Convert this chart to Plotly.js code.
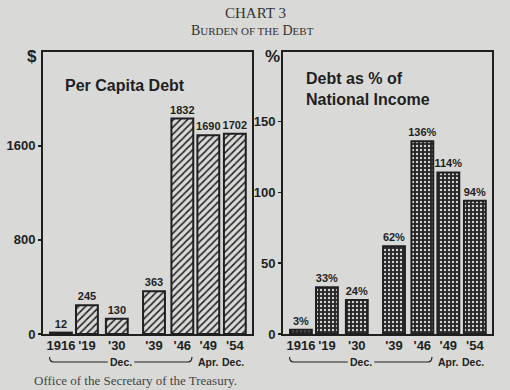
<!DOCTYPE html>
<html><head><meta charset="utf-8">
<script src="https://cdn.plot.ly/plotly-3.0.1.min.js"></script>
<style>html,body{margin:0;padding:0;background:#d9dad8;}</style>
</head><body>
<div id="chart" style="width:510px;height:390px;"></div>
<script>
// Data
const years = ["1916", "'19", "'30", "'39", "'46", "'49", "'54"];
const perCapitaDebt = [12, 245, 130, 363, 1832, 1690, 1702];
const debtPctIncome = [3, 33, 24, 62, 136, 114, 94];
const perCapitaLabels = ["12", "245", "130", "363", "1832", "1690", "1702"];
const pctLabels = ["3%", "33%", "24%", "62%", "136%", "114%", "94%"];
const leftTicks = [0, 800, 1600];
const rightTicks = [0, 50, 100, 150];

// Layout: slot positions of the bars along each panel (uneven spacing in original)
const slots = [0, 1, 2.15, 3.58, 4.67, 5.67, 6.69];

const ink = '#1f1f1f';
const bg = '#d9dad8';
const sans = 'Liberation Sans, Arial, sans-serif';
const serif = 'Liberation Serif, Times New Roman, serif';

const traces = [
  {
    type: 'bar', x: slots, y: perCapitaDebt, xaxis: 'x', yaxis: 'y',
    width: 0.84, text: perCapitaLabels, textposition: 'outside', cliponaxis: false,
    constraintext: 'none',
    textfont: {family: sans, size: 11, color: ink, weight: 'bold'},
    marker: {color: bg, line: {color: ink, width: 2},
      pattern: {shape: '/', fgcolor: ink, bgcolor: bg, size: 5, solidity: 0.3}},
    hoverinfo: 'skip'
  },
  {
    type: 'bar', x: slots, y: debtPctIncome, xaxis: 'x2', yaxis: 'y2',
    width: 0.84, text: pctLabels, textposition: 'outside', cliponaxis: false,
    constraintext: 'none',
    textfont: {family: sans, size: 11, color: ink, weight: 'bold'},
    marker: {color: '#2a2a2a', line: {color: ink, width: 2},
      pattern: {shape: '.', fgcolor: '#d4d5d3', bgcolor: '#262626', size: 4, solidity: 0.28}},
    hoverinfo: 'skip'
  }
];

const xCommon = {
  range: [-0.69, 7.35], tickvals: slots, ticktext: years, ticks: '', showgrid: false,
  zeroline: false, showline: true, mirror: true, linecolor: ink, linewidth: 2,
  tickangle: 0, automargin: false, ticklabelstandoff: -2,
  tickfont: {family: sans, size: 13, color: ink, weight: 'bold'}
};
const yCommon = {
  showgrid: false, zeroline: false, showline: true, mirror: true, linecolor: ink, linewidth: 2,
  ticks: 'outside', ticklen: 3, tickwidth: 1.5, tickcolor: ink, automargin: false,
  tickfont: {family: sans, size: 13, color: ink, weight: 'bold'}
};

const pH = 282, base = 334, W = 510;
const py = p => (base - p) / pH;
const px = p => p / W;

function bracket(xr) {
  const y0 = py(357), y1 = py(362);
  return [
    {type: 'path', xref: xr, yref: 'paper',
      path: `M -0.44,${y0} Q -0.44,${y1} -0.28,${y1} L 1.8,${y1}`,
      line: {color: ink, width: 1.2}},
    {type: 'path', xref: xr, yref: 'paper',
      path: `M 2.82,${y1} L 4.88,${y1} Q 5.04,${y1} 5.04,${y0}`,
      line: {color: ink, width: 1.2}}
  ];
}

function bracketText(xr) {
  const f = {family: sans, size: 10.5, color: ink, weight: 'bold'};
  const base = {xref: xr, yref: 'paper', y: py(362), yanchor: 'middle', xanchor: 'center', showarrow: false, font: f};
  return [
    Object.assign({}, base, {x: 2.31, text: 'Dec.'}),
    Object.assign({}, base, {x: 5.67, text: 'Apr.'}),
    Object.assign({}, base, {x: 6.62, text: 'Dec.'})
  ];
}

function note(x, y, text, font, extra) {
  return Object.assign({xref: 'paper', yref: 'paper', x: px(x), y: py(y), text: text,
    showarrow: false, xanchor: 'center', yanchor: 'middle', font: font}, extra || {});
}

const layout = {
  width: 510, height: 390,
  margin: {l: 0, r: 0, t: 52, b: 56},
  paper_bgcolor: bg, plot_bgcolor: bg,
  showlegend: false,
  xaxis: Object.assign({}, xCommon, {domain: [px(43), px(252)], anchor: 'y'}),
  yaxis: Object.assign({}, yCommon, {range: [0, 2398], tickvals: leftTicks, anchor: 'x'}),
  xaxis2: Object.assign({}, xCommon, {domain: [px(283), px(492)], anchor: 'y2'}),
  yaxis2: Object.assign({}, yCommon, {range: [0, 199], tickvals: rightTicks, anchor: 'x2'}),
  shapes: [].concat(bracket('x'), bracket('x2')),
  annotations: [
    note(255, 13, 'CHART 3', {family: serif, size: 15, color: '#333'}),
    note(252, 31, 'B<span style="font-size:11px">URDEN OF THE</span> D<span style="font-size:11px">EBT</span>',
      {family: serif, size: 14, color: '#333'}),
    note(32, 56, '$', {family: sans, size: 17, color: ink, weight: 'bold'}),
    note(272, 57, '%', {family: sans, size: 17, color: ink, weight: 'bold'}),
    note(63, 85, 'Per Capita Debt', {family: sans, size: 16, color: ink, weight: 'bold'}, {xanchor: 'left'}),
    note(304, 89, 'Debt as % of<br>National Income', {family: sans, size: 16, color: ink, weight: 'bold'},
      {xanchor: 'left', align: 'left'}),
    note(135, 380, 'Office of the Secretary of the Treasury.', {family: serif, size: 13, color: '#444'})
  ].concat(bracketText('x'), bracketText('x2'))
};

Plotly.newPlot('chart', traces, layout, {staticPlot: true, displayModeBar: false});
</script>
</body></html>
